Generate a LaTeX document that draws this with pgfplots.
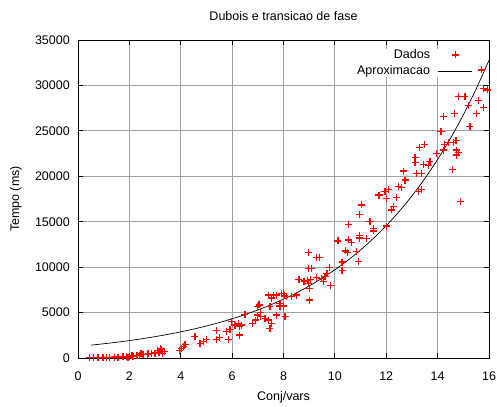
\documentclass[border=0pt]{standalone}
\usepackage{pgfplots}
\pgfplotsset{compat=1.18}
\usepackage{fontspec}
\setmainfont{Liberation Sans}
\definecolor{gridgray}{RGB}{160,160,160}
\definecolor{dred}{RGB}{255,0,0}
\begin{document}
\fontsize{12.5bp}{15bp}\selectfont
\begin{tikzpicture}
\useasboundingbox (-78bp,-49bp) rectangle (419bp,358bp);
\begin{axis}[
  scale only axis,
  width=411bp, height=318bp,
  xmin=0, xmax=16, ymin=0, ymax=35000,
  xtick={0,2,...,16},
  ytick={0,5000,...,35000},
  scaled ticks=false,
  /pgf/number format/set thousands separator={},
  /pgf/number format/assume math mode=true,
  tick align=inside,
  tick pos=both,
  major tick length=5bp,
  grid=major,
  grid style={gridgray, line width=0.8pt},
  axis line style={black, line width=0.9pt},
  every tick/.style={black, line width=0.8pt},
  xticklabel style={anchor=center, inner sep=0pt, yshift=-18bp},
  yticklabel style={anchor=east, inner sep=0pt, xshift=-8bp},
  title={Dubois e transicao de fase},
  title style={at={(0.5,1)}, anchor=center, inner sep=0pt, yshift=18bp},
  xlabel={Conj/vars},
  xlabel style={at={(0.5,0)}, anchor=center, inner sep=0pt, yshift=-39bp},
  ylabel={Tempo (ms)},
  ylabel style={at={(0,0.5)}, anchor=center, inner sep=0pt, yshift=62bp},
  legend style={draw=none, fill=white, at={(1,1)}, anchor=north east, xshift=-16bp, yshift=-9bp,
    inner sep=0pt, column sep=8bp, row sep=4bp,
    nodes={inner sep=0pt, text height=9bp, text depth=3bp},
    legend cell align=right, font=\fontsize{12.5bp}{15bp}\selectfont},
  legend plot pos=right,
]
\addplot[only marks, mark=+, mark size=3.5bp, draw=dred, fill=dred, mark options={draw=dred, fill=dred, line width=1.3bp}, line width=1.3bp,
  legend image code/.code={\draw[draw=dred, line width=1.3bp] plot[mark=+, mark size=3.5bp, mark options={draw=dred}] coordinates {(0.6cm+0.3bp,0.3bp)};}]
table {
x y
0.45 30
0.6 40
0.78 50
0.97 60
1.1 70
1.23 60
1.43 100
1.56 90
1.75 120
1.88 150
1.95 80
2.0 200
2.1 250
2.14 180
2.3 300
2.4 280
2.45 450
2.53 400
2.7 350
2.73 450
2.86 500
3.0 550
3.1 800
3.15 600
3.25 900
3.3 500
3.38 700
3.2 1000
3.96 800
4.04 1070
4.1 1300
4.17 1500
4.55 2350
4.75 1620
4.88 1800
5.01 2050
5.4 2050
5.5 2230
5.4 3010
5.79 2930
5.85 2050
5.92 3120
5.98 4000
6.11 3630
6.24 3810
6.3 3450
6.37 3630
6.3 2530
6.5 4800
6.79 3810
6.92 4180
6.98 5650
7.05 5840
6.98 4730
7.1 4550
7.1 4990
7.28 4360
7.41 4180
7.47 3270
7.54 3810
7.73 4730
8.06 4550
7.41 6930
7.73 6930
7.93 7120
8.12 6750
7.47 5650
7.86 6020
7.53 6600
7.86 5720
7.99 5720
7.6 6930
7.99 7110
8.05 6830
8.31 6750
8.51 6930
8.6 8660
8.8 8470
8.93 8500
9.06 8660
9.29 8880
9.49 8740
9.62 8950
9.69 9320
9.56 8440
9.82 8000
8.96 8220
9.0 7670
9.0 6380
8.96 11590
9.29 11080
9.4 11080
8.96 9870
9.1 9870
9.78 9980
10.12 12880
10.54 12990
10.64 12700
10.97 13500
10.97 13200
11.23 13150
10.4 11780
10.5 11640
10.84 11700
10.93 10600
10.28 10550
10.28 9620
10.54 14710
11.36 14990
11.49 13980
10.97 15810
11.04 16840
11.69 17940
11.37 15000
11.5 14270
12.0 14520
11.75 17930
11.95 18300
12.1 18520
12.0 17560
12.4 17640
12.27 16650
12.2 16290
12.47 18850
12.6 18780
12.66 20580
12.73 19590
13.25 18300
13.38 18520
13.18 20330
13.38 20330
13.12 22030
13.12 21480
13.44 21300
13.64 21220
13.7 21660
13.3 23140
13.5 23470
13.95 22520
14.13 24910
14.41 23740
14.22 26560
14.22 22890
14.28 23480
14.61 23740
14.72 23920
14.74 22890
14.8 22600
14.74 22340
14.58 20770
14.89 17200
14.15 24910
14.67 26930
15.26 25460
15.52 26930
15.19 27770
15.78 27550
15.58 28320
14.8 28760
15.06 28760
15.78 29680
15.94 29500
15.71 31700
};
\addlegendentry{Dados}
\addplot[black, line width=0.7pt, smooth,
  legend image code/.code={\draw[black, line width=0.7pt] (0cm,0cm) -- (1.2cm,0cm);}]
table {
x y
0.5 1415
1 1566
1.5 1733
2 1918
2.5 2123
3 2350
3.5 2600
4 2877
4.5 3185
5 3524
5.5 3900
6 4316
6.5 4777
7 5286
7.5 5850
8 6474
8.5 7165
9 7929
9.5 8775
10 9711
10.5 10747
11 11893
11.5 13162
12 14566
12.5 16120
13 17840
13.5 19742
14 21849
14.5 24180
15 26759
15.5 29614
16 32773
};
\addlegendentry{Aproximacao}
\end{axis}
\end{tikzpicture}
\end{document}
